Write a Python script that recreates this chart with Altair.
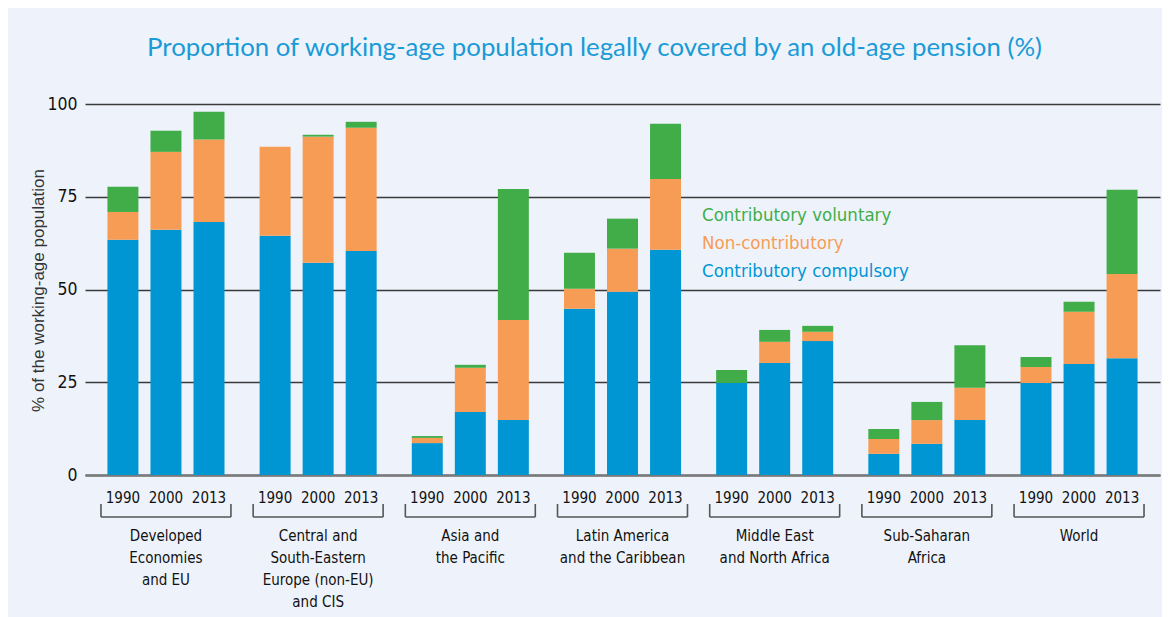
import altair as alt
import pandas as pd

regions = [
    "Developed|Economies|and EU",
    "Central and|South-Eastern|Europe (non-EU)|and CIS",
    "Asia and|the Pacific",
    "Latin America|and the Caribbean",
    "Middle East|and North Africa",
    "Sub-Saharan|Africa",
    "World",
]
years = ["1990", "2000", "2013"]
series = ["Contributory compulsory", "Non-contributory", "Contributory voluntary"]
colors = ["#0096D3", "#F79C55", "#41AD49"]

# values per region, per year (1990, 2000, 2013)
compulsory = [63.4, 66.1, 68.2,  64.5, 57.2, 60.4,  8.6, 17.0, 14.8,
              44.8, 49.4, 60.7,  24.8, 30.2, 36.1,  5.7, 8.4, 14.8,
              24.8, 29.9, 31.5]
noncontrib = [7.5, 21.0, 22.2,  24.0, 34.0, 33.2,  1.4, 11.9, 27.0,
              5.4, 11.6, 19.1,  0.0, 5.7, 2.5,  4.0, 6.4, 8.7,
              4.3, 14.1, 22.7]
voluntary = [6.8, 5.7, 7.5,  0.0, 0.5, 1.6,  0.5, 0.8, 35.3,
             9.7, 8.1, 14.9,  3.5, 3.2, 1.6,  2.7, 4.9, 11.5,
             2.7, 2.7, 22.7]

rows = []
ylist = []
for i, r in enumerate(regions):
    for j, yv in enumerate(years):
        k = i * 3 + j
        ylist.append({"region": r, "year": yv})
        for s, (name, vals) in enumerate(zip(series, [compulsory, noncontrib, voluntary])):
            rows.append({"region": r, "year": yv, "type": name, "order": s, "value": vals[k]})
df = pd.DataFrame(rows)
dyears = pd.DataFrame(ylist)
dregions = pd.DataFrame({"region": regions})

COND = "'DejaVu Sans Condensed', 'Liberation Sans Narrow', 'Roboto Condensed', 'Noto Sans Condensed', Roboto, sans-serif"
W, H = 1075, 371

xscale = alt.Scale(domain=regions, paddingInner=0.146, paddingOuter=0.105)
oscale = alt.Scale(domain=years, paddingInner=0.28, paddingOuter=0.15)
cscale = alt.Scale(domain=series, range=colors)

xaxis = alt.Axis(
    title=None, ticks=False, domain=True, domainColor="#7a7a7a", domainWidth=2.5,
    labelAngle=0, labelExpr="split(datum.label, '|')", labelFont=COND, labelFontSize=15,
    labelColor="#111", labelPadding=53, labelLineHeight=22, labelBaseline="top",
)

bars = alt.Chart(df).mark_bar().encode(
    x=alt.X("region:N", scale=xscale, axis=xaxis, sort=regions),
    xOffset=alt.XOffset("year:N", scale=oscale),
    y=alt.Y("value:Q", stack="zero",
            scale=alt.Scale(domain=[0, 100], nice=False),
            axis=alt.Axis(values=[0, 25, 50, 75, 100], title="% of the working-age population",
                          ticks=False, domain=False, grid=True, gridColor="#3a3a3a",
                          gridWidth=1.3, labelFont=COND, labelFontSize=17.5, labelColor="#111",
                          labelPadding=8, titleFont="Liberation Sans", titleFontSize=17,
                          titleFontWeight="normal", titleColor="#333",
                          titleX=-47, titleY=186, titleAngle=-90, titleAlign="center",
                          titleBaseline="middle")),
    color=alt.Color("type:N", scale=cscale, legend=None),
    order=alt.Order("order:Q", sort="ascending"),
)

yearlabels = alt.Chart(dyears).mark_text(
    font=COND, fontSize=15, color="#111", baseline="middle"
).encode(
    x=alt.X("region:N", scale=xscale, sort=regions),
    xOffset=alt.XOffset("year:N", scale=oscale),
    y=alt.value(H + 23),
    text="year:N",
)

bk_color = "#555555"
bracket_h = alt.Chart(dregions).mark_rule(color=bk_color, strokeWidth=1.6).encode(
    x=alt.X("region:N", scale=xscale, sort=regions, bandPosition=0),
    x2=alt.X2("region", bandPosition=1),
    y=alt.value(H + 42),
)
bracket_l = alt.Chart(dregions).mark_rule(color=bk_color, strokeWidth=1.6).encode(
    x=alt.X("region:N", scale=xscale, sort=regions, bandPosition=0),
    y=alt.value(H + 29), y2=alt.value(H + 42),
)
bracket_r = alt.Chart(dregions).mark_rule(color=bk_color, strokeWidth=1.6).encode(
    x=alt.X("region:N", scale=xscale, sort=regions, bandPosition=1),
    y=alt.value(H + 29), y2=alt.value(H + 42),
)

legend_layers = []
for name, col, yy in zip(series[::-1], colors[::-1], [111, 139, 167]):
    legend_layers.append(
        alt.Chart(pd.DataFrame({"type": [name]})).mark_text(
            font=COND, fontSize=18.5, align="left", baseline="middle", color=col
        ).encode(x=alt.value(617), y=alt.value(yy), text="type:N")
    )

chart = alt.layer(bars, yearlabels, bracket_h, bracket_l, bracket_r, *legend_layers).properties(
    width=W, height=H,
    autosize=alt.AutoSizeParams(type="none"),
    padding={"left": 77, "top": 96, "right": 2, "bottom": 142},
    title=alt.Title(
        "Proportion of working-age population legally covered by an old-age pension (%)",
        font="Lato", fontSize=25.8, fontWeight="normal", color="#1A9AD6",
        anchor="middle", frame="bounds", offset=33,
    ),
).configure(background="#EEF3FB").configure_view(stroke=None)

chart.save("out.html", embed_options={"renderer": "svg", "actions": False})
